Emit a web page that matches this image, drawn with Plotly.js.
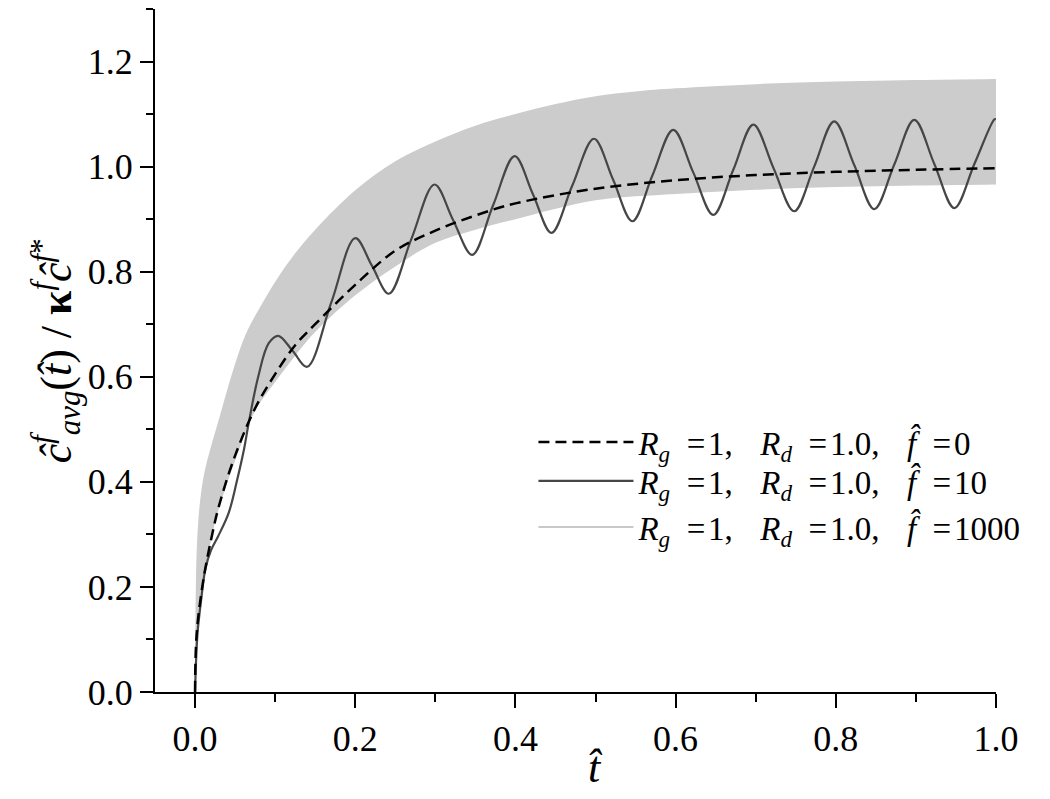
<!DOCTYPE html>
<html>
<head>
<meta charset="utf-8">
<script src="https://cdn.plot.ly/plotly-3.0.1.min.js"></script>
<style>html,body{margin:0;padding:0;background:#fff;}#chart{width:1050px;height:799px;}</style>
</head>
<body>
<div id="chart"></div>
<script>
// f = 0 (dashed)
const tF0 = [0, 0.002, 0.01, 0.02, 0.03, 0.05, 0.075, 0.1, 0.125, 0.15, 0.2, 0.25, 0.3, 0.35, 0.4, 0.5, 0.6, 0.7, 0.8, 0.9, 1.0];
const cF0 = [0, 0.11, 0.21, 0.29, 0.355, 0.45, 0.54, 0.605, 0.66, 0.70, 0.775, 0.84, 0.878, 0.907, 0.93, 0.958, 0.974, 0.984, 0.99, 0.994, 0.997];

// f = 10 (solid, oscillating)
const tF10 = [0, 0.003, 0.008, 0.013, 0.02, 0.029, 0.042, 0.052, 0.061, 0.067, 0.079, 0.092, 0.104,
  0.122, 0.14, 0.17, 0.2, 0.221, 0.242, 0.27, 0.299, 0.322, 0.346, 0.372, 0.399, 0.422, 0.445,
  0.471, 0.498, 0.522, 0.546, 0.571, 0.597, 0.622, 0.647, 0.672, 0.697, 0.722, 0.748, 0.773,
  0.798, 0.823, 0.848, 0.873, 0.898, 0.923, 0.948, 0.973, 0.998, 1.0];
const cF10 = [0, 0.11, 0.18, 0.235, 0.27, 0.297, 0.341, 0.40, 0.461, 0.512, 0.601, 0.664, 0.678,
  0.649, 0.619, 0.741, 0.864, 0.811, 0.758, 0.862, 0.966, 0.899, 0.832, 0.926, 1.02, 0.947, 0.874,
  0.964, 1.053, 0.975, 0.896, 0.983, 1.07, 0.989, 0.908, 0.994, 1.08, 0.998, 0.915, 1.0,
  1.086, 1.003, 0.919, 1.004, 1.089, 1.005, 0.921, 1.005, 1.09, 1.09];

// f = 1000 (fast oscillation, drawn as its envelope band)
const tF1000Up = [0, 0.001, 0.003, 0.0065, 0.012, 0.019, 0.03, 0.045, 0.063, 0.084, 0.104, 0.125, 0.15, 0.2, 0.25, 0.3, 0.35, 0.4, 0.45, 0.5, 0.55, 0.6, 0.7, 0.8, 0.9, 1.0];
const cF1000Up = [0, 0.2, 0.3, 0.366, 0.42, 0.462, 0.52, 0.60, 0.68, 0.74, 0.79, 0.835, 0.88, 0.955, 1.01, 1.048, 1.078, 1.10, 1.119, 1.134, 1.143, 1.149, 1.157, 1.162, 1.165, 1.167];
const tF1000Lo = [0, 0.002, 0.01, 0.02, 0.03, 0.05, 0.075, 0.1, 0.125, 0.15, 0.2, 0.25, 0.3, 0.35, 0.4, 0.5, 0.6, 0.7, 0.8, 0.9, 1.0];
const cF1000Lo = [0, 0.11, 0.21, 0.29, 0.35, 0.44, 0.535, 0.59, 0.64, 0.685, 0.755, 0.81, 0.855, 0.88, 0.9, 0.936, 0.948, 0.956, 0.961, 0.964, 0.966];

const S = '\u00a0', EN = '\u2002', HAIR = '\u200a';
const GAP = S + S + S + HAIR;
const lbl = (f) => '<i>R</i><sub><i>g</i></sub>' + EN + '=' + HAIR + '1,' + GAP +
  '<i>R</i><sub><i>d</i></sub>' + EN + '=' + HAIR + '1.0,' + GAP +
  '<i>f\u0302</i>' + EN + '=' + HAIR + f;
const names = [lbl('0'), lbl('10'), lbl('1000')];
const xTicks = [0, 0.2, 0.4, 0.6, 0.8, 1.0];
const yTicks = [0, 0.2, 0.4, 0.6, 0.8, 1.0, 1.2];

const FONT = 'Liberation Serif';
const bandColor = '#cccccc';

const traces = [
  {x: tF1000Lo, y: cF1000Lo, mode: 'lines', line: {width: 0, color: bandColor, shape: 'spline'}, showlegend: false, hoverinfo: 'skip'},
  {x: tF1000Up, y: cF1000Up, mode: 'lines', fill: 'tonexty', fillcolor: bandColor, line: {width: 0, color: bandColor, shape: 'spline'}, showlegend: false, hoverinfo: 'skip'},
  {x: [null], y: [null], mode: 'lines', name: names[2], line: {color: '#c8c8c8', width: 2}, legend: 'legend3'},
  {x: tF10, y: cF10, mode: 'lines', name: names[1], line: {color: '#464646', width: 2.2, shape: 'spline', smoothing: 1}, legend: 'legend2'},
  {x: tF0, y: cF0, mode: 'lines', name: names[0], line: {color: '#000000', width: 2.5, dash: '11px,6px', shape: 'spline'}, legend: 'legend'}
];

const legBase = {xanchor: 'left', yanchor: 'middle', x: 0.45, bgcolor: 'rgba(0,0,0,0)',
  font: {family: FONT, size: 33, color: '#000'}, itemwidth: 95};

const layout = {
  width: 1050, height: 799,
  margin: {l: 155, r: 54, t: 9, b: 107, autoexpand: false},
  paper_bgcolor: '#ffffff', plot_bgcolor: '#ffffff',
  font: {family: FONT, color: '#000', size: 36},
  showlegend: true,
  legend: Object.assign({}, legBase, {y: 0.366}),
  legend2: Object.assign({}, legBase, {y: 0.309}),
  legend3: Object.assign({}, legBase, {y: 0.2416}),
  xaxis: {
    range: [-0.05, 1.0], showgrid: false, zeroline: false, automargin: false,
    showline: true, linecolor: '#000', linewidth: 2,
    tickmode: 'array', tickvals: xTicks, ticktext: xTicks.map(v => v.toFixed(1)),
    ticks: 'outside', ticklen: 14, tickwidth: 2, tickcolor: '#000',
    minor: {dtick: 0.1, tick0: 0, ticks: 'outside', ticklen: 8, tickwidth: 2, tickcolor: '#000'},
    tickfont: {family: FONT, size: 36}
  },
  yaxis: {
    range: [0, 1.3], showgrid: false, zeroline: false, automargin: false,
    showline: true, linecolor: '#000', linewidth: 2,
    tickmode: 'array', tickvals: yTicks, ticktext: yTicks.map(v => v.toFixed(1)),
    ticks: 'outside', ticklen: 13, tickwidth: 2, tickcolor: '#000',
    minor: {dtick: 0.1, tick0: 0, ticks: 'outside', ticklen: 7, tickwidth: 2, tickcolor: '#000'},
    tickfont: {family: FONT, size: 36}
  },
  annotations: [
    {xref: 'x', yref: 'paper', x: 0.5, y: -0.11, xanchor: 'center', yanchor: 'middle',
     text: '<i>t\u0302</i>', showarrow: false, font: {family: FONT, size: 44}},
    {xref: 'paper', yref: 'paper', x: -0.118, y: 0.5, xanchor: 'center', yanchor: 'middle', textangle: -90,
     text: '<i>\u0109</i><sup><i>f</i></sup><sub><i>avg</i></sub>(<i>t\u0302</i>)' + S + '/' + S + '<b>\u03ba</b><sup><i>f</i></sup><i>\u0109</i><sup><i>f</i>*</sup>',
     showarrow: false, font: {family: FONT, size: 44}}
  ]
};

Plotly.newPlot('chart', traces, layout, {staticPlot: true, displayModeBar: false});
</script>
</body>
</html>
